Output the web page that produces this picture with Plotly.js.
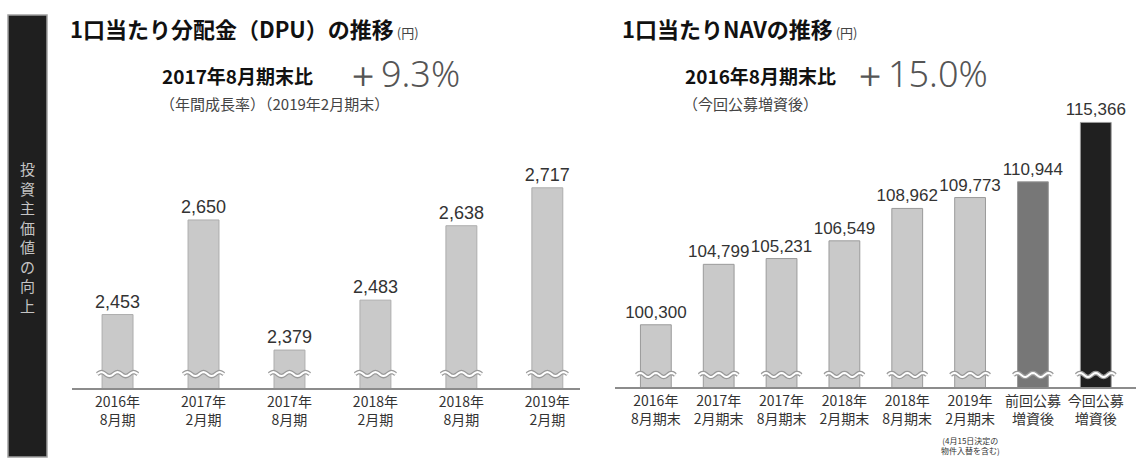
<!DOCTYPE html>
<html><head><meta charset="utf-8">
<script src="https://cdn.plot.ly/plotly-3.0.1.min.js"></script>
<style>html,body{margin:0;padding:0;background:#fff}#chart{width:1138px;height:460px}</style>
</head><body><div id="chart"></div>
<script>
// ---- data ----
const dpuLabels = ['2016年<br>8月期','2017年<br>2月期','2017年<br>8月期','2018年<br>2月期','2018年<br>8月期','2019年<br>2月期'];
const dpuValues = [2453, 2650, 2379, 2483, 2638, 2717];
const navLabels = ['2016年<br>8月期末','2017年<br>2月期末','2017年<br>8月期末','2018年<br>2月期末','2018年<br>8月期末','2019年<br>2月期末','前回公募<br>増資後','今回公募<br>増資後'];
const navValues = [100300, 104799, 105231, 106549, 108962, 109773, 110944, 115366];
const navColors = ['#c9c9c9','#c9c9c9','#c9c9c9','#c9c9c9','#c9c9c9','#c9c9c9','#777777','#202020'];

const W = 1138, H = 460;
const JP = '"Noto Sans CJK JP", "Noto Sans", sans-serif';
const fmt = v => v.toLocaleString('en-US');

const idxL = dpuValues.map((_, i) => i);
const idxR = navValues.map((_, i) => i);

const traces = [
  {type:'bar', x: idxL, y: dpuValues, xaxis:'x', yaxis:'y', width:0.36,
   marker:{color:'#c9c9c9', line:{color:'#adadad', width:1}},
   text: dpuValues.map(fmt), textposition:'outside', constraintext:'none',
   textfont:{family:'"Liberation Sans", Arial, sans-serif', size:18, color:'#333'},
   hoverinfo:'skip', showlegend:false},
  {type:'bar', x: idxR, y: navValues, xaxis:'x2', yaxis:'y2', width:0.49,
   marker:{color:navColors, line:{color:'#9a9a9a', width:1}},
   text: navValues.map(fmt), textposition:'outside', constraintext:'none',
   textfont:{family:'"Liberation Sans Narrow", "Liberation Sans", Arial, sans-serif', size:17, color:'#333'},
   hoverinfo:'skip', showlegend:false}
];

// wavy "axis break" decorations across each bar
function wavePath(cx, half, yc, amp) {
  let d = '';
  const n = 30;
  for (let k = 0; k <= n; k++) {
    const t = k / n;
    const x = cx - half + 2 * half * t;
    const y = yc + amp * Math.sin(t * Math.PI * 2 * 2.5);
    d += (k === 0 ? 'M' : 'L') + x.toFixed(4) + ',' + y.toFixed(2);
  }
  return d;
}
const shapes = [
  {type:'rect', xref:'paper', yref:'paper', x0:8/W, x1:47/W, y0:1-457/H, y1:1-15/H,
   fillcolor:'#1f1f1f', line:{color:'#a0a0a0', width:1.5}, layer:'below'}
];
idxL.forEach(i => {
  const p = wavePath(i, 0.235, 2329, 4.2);
  shapes.push({type:'path', xref:'x', yref:'y', path:p, line:{color:'#9a9a9a', width:4.5}});
  shapes.push({type:'path', xref:'x', yref:'y', path:p, line:{color:'#ffffff', width:2}});
});
idxR.forEach(i => {
  const p = wavePath(i, 0.31, 96560, 150);
  shapes.push({type:'path', xref:'x2', yref:'y2', path:p, line:{color:'#9a9a9a', width:4.5}});
  shapes.push({type:'path', xref:'x2', yref:'y2', path:p, line:{color:'#ffffff', width:2}});
});

const ann = (x, y, text, font, extra) => Object.assign({xref:'paper', yref:'paper', x:x/W, y:1-y/H,
  text, showarrow:false, xanchor:'left', yanchor:'middle', font}, extra||{});

const annotations = [
  ann(68, 28, '<b>1口当たり分配金（DPU）の推移</b><span style="font-size:13px;color:#444"> (円)</span>',
      {family:JP, size:22, color:'#111'}),
  ann(620, 28, '<b>1口当たりNAVの推移</b><span style="font-size:13px;color:#444"> (円)</span>',
      {family:JP, size:22, color:'#111'}),
  ann(160, 75, '<b>2017年8月期末比</b>', {family:JP, size:19, color:'#111'}),
  ann(343, 74, '＋9.3%', {family:'"Noto Sans", sans-serif', size:36, color:'#555', weight:300}),
  ann(158, 103, '（年間成長率）（2019年2月期末）', {family:JP, size:15, color:'#444'}),
  ann(683, 75, '<b>2016年8月期末比</b>', {family:JP, size:19, color:'#111'}),
  ann(850, 74, '＋15.0%', {family:'"Noto Sans", sans-serif', size:36, color:'#555', weight:300}),
  ann(681, 103, '（今回公募増資後）', {family:JP, size:15, color:'#444'}),
  {xref:'paper', yref:'paper', x:27.5/W, y:1-237/H, showarrow:false, xanchor:'center', yanchor:'middle',
   text:'投<br>資<br>主<br>価<br>値<br>の<br>向<br>上', font:{family:JP, size:15, color:'#c4c4c4'}},
  {xref:'x2', yref:'paper', x:5, y:1-445/H, showarrow:false, xanchor:'center', yanchor:'middle',
   text:'(4月15日決定の<br>物件入替を含む)', font:{family:JP, size:8, color:'#333'}}
];

const xBase = {showline:true, linecolor:'#8c8c8c', linewidth:2, ticks:'', showgrid:false, zeroline:false,
  tickfont:{family:JP, size:14, color:'#333'}, fixedrange:true};
const yBase = {visible:false, showgrid:false, zeroline:false, fixedrange:true};

const layout = {
  width:W, height:H, margin:{l:0, r:0, t:0, b:0},
  paper_bgcolor:'#fff', plot_bgcolor:'rgba(0,0,0,0)',
  xaxis: Object.assign({}, xBase, {domain:[72/W, 580/W], range:[-0.53, 5.38], tickvals:idxL, ticktext:dpuLabels, anchor:'y'}),
  yaxis: Object.assign({}, yBase, {domain:[1-388/H, 1-50/H], range:[2300, 3004], anchor:'x'}),
  xaxis2: Object.assign({}, xBase, {domain:[615/W, 1136/W], range:[-0.65, 7.64], tickvals:idxR, ticktext:navLabels, anchor:'y2'}),
  yaxis2: Object.assign({}, yBase, {domain:[1-387/H, 1-50/H], range:[95666, 120759], anchor:'x2'}),
  shapes, annotations, bargap:0
};

Plotly.newPlot('chart', traces, layout, {staticPlot:true, displayModeBar:false});
</script>
</body></html>
